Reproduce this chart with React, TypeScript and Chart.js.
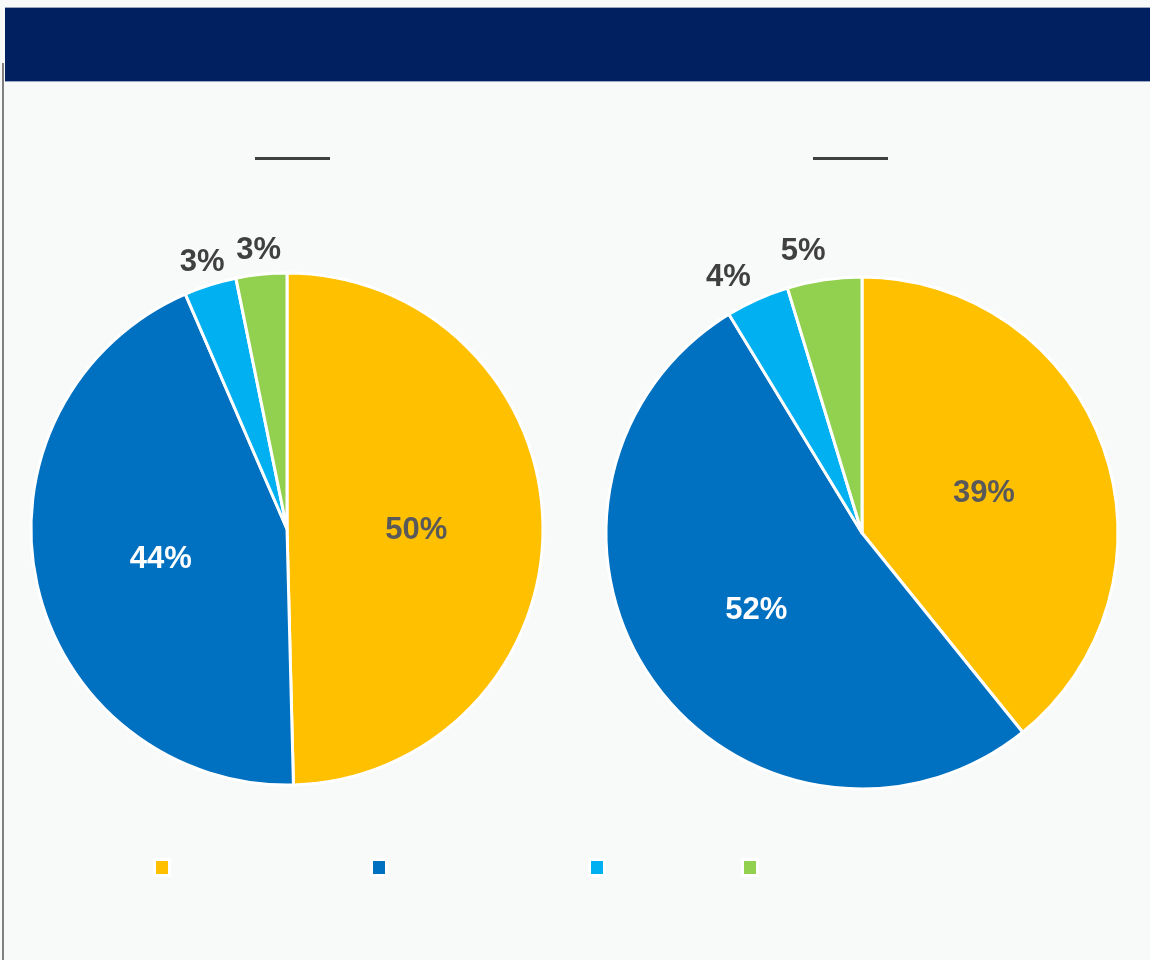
import React, { useEffect, useRef } from "react";
import { Chart, registerables } from "chart.js";

Chart.register(...registerables);

// ---- data ----
const categories: string[] = ["", "", "", ""];
const leftValues: number[] = [49.6, 43.9, 3.3, 3.2];
const rightValues: number[] = [39.2, 52.1, 4.0, 4.7];
const leftTitle = "";
const rightTitle = "";

// ---- styles ----
const sliceColors = ["#FFC000", "#0070C0", "#00B0F0", "#92D050"];
const insideLabelColors = ["#595959", "#FFFFFF", "#595959", "#595959"];
const outsideLabelColor = "#404040";
const BG = "#F8F9F9";
const FONT = "'Liberation Sans', Arial, sans-serif";

function makeLabelPlugin(outsideDist: number, outsideRotDeg: number) {
  return {
    id: "pieLabels",
    afterDatasetsDraw(chart: any) {
      const ctx = chart.ctx as CanvasRenderingContext2D;
      const meta = chart.getDatasetMeta(0);
      const data = chart.data.datasets[0].data as number[];
      const total = data.reduce((a, b) => a + b, 0);
      ctx.save();
      ctx.font = `bold 31px ${FONT}`;
      ctx.textAlign = "center";
      ctx.textBaseline = "middle";
      meta.data.forEach((arc: any, i: number) => {
        const p = arc.getProps(["x", "y", "startAngle", "endAngle", "outerRadius"], true);
        let mid = (p.startAngle + p.endAngle) / 2;
        const pct = (data[i] / total) * 100;
        const inside = pct >= 10;
        if (!inside) mid += (outsideRotDeg * Math.PI) / 180;
        const r = inside ? p.outerRadius * 0.505 : p.outerRadius + outsideDist;
        const lx = p.x + Math.cos(mid) * r;
        const ly = p.y + Math.sin(mid) * r + 3;
        ctx.fillStyle = inside ? insideLabelColors[i] : outsideLabelColor;
        ctx.fillText(`${Math.round(pct)}%`, lx, ly);
      });
      ctx.restore();
    },
  };
}

function PieCanvas(props: { values: number[]; left: number; top: number; outsideDist: number; outsideRot: number }) {
  const ref = useRef<HTMLCanvasElement | null>(null);
  useEffect(() => {
    if (!ref.current) return;
    const chart = new Chart(ref.current, {
      type: "pie",
      data: {
        labels: categories,
        datasets: [
          {
            data: props.values,
            backgroundColor: sliceColors,
            borderColor: "#FFFFFF",
            borderWidth: 3,
            radius: 256,
          } as any,
        ],
      },
      options: {
        animation: false,
        responsive: false,
        maintainAspectRatio: false,
        layout: { padding: 0 },
        plugins: {
          legend: { display: false },
          title: { display: false },
          tooltip: { enabled: false },
        },
      },
      plugins: [makeLabelPlugin(props.outsideDist, props.outsideRot)],
    });
    return () => chart.destroy();
  }, []);
  return (
    <canvas
      ref={ref}
      width={574}
      height={640}
      style={{ position: "absolute", left: props.left, top: props.top, width: 574, height: 640 }}
    />
  );
}

const legendLeft = [156, 373, 591, 744];

const titleStyle: React.CSSProperties = {
  position: "absolute",
  top: 130,
  width: 75,
  height: 27,
  borderBottom: "3px solid #404040",
  textAlign: "center",
  color: "#404040",
  fontSize: 22,
  fontWeight: "bold",
};

export default function App() {
  return (
    <div
      style={{
        position: "absolute",
        left: 0,
        top: 0,
        width: 1150,
        height: 960,
        background: BG,
        overflow: "hidden",
        fontFamily: FONT,
      }}
    >
      {/* header band */}
      <div
        style={{
          position: "absolute",
          left: 5,
          top: 7,
          width: 1145,
          height: 73,
          background: "#00205F",
          borderTop: "1px solid #9AA6C2",
          borderBottom: "1px solid #9AA6C2",
        }}
      />
      {/* left frame line */}
      <div style={{ position: "absolute", left: 2, top: 63, width: 2, height: 897, background: "#808080" }} />

      {/* chart titles (underlined) */}
      <div style={{ ...titleStyle, left: 255 }}>{leftTitle}</div>
      <div style={{ ...titleStyle, left: 813 }}>{rightTitle}</div>

      <PieCanvas values={leftValues} left={0} top={209} outsideDist={27} outsideRot={0} />
      <PieCanvas values={rightValues} left={575} top={213} outsideDist={35} outsideRot={-3.2} />

      {/* legend */}
      {categories.map((c, i) => (
        <div
          key={i}
          style={{
            position: "absolute",
            left: legendLeft[i] - 3,
            top: 858,
            display: "flex",
            alignItems: "center",
          }}
        >
          <div
            style={{
              width: 12,
              height: 13,
              background: sliceColors[i],
              border: "3px solid #FFFFFF",
            }}
          />
          <span style={{ marginLeft: 6, fontSize: 16, color: "#404040" }}>{c}</span>
        </div>
      ))}
    </div>
  );
}
